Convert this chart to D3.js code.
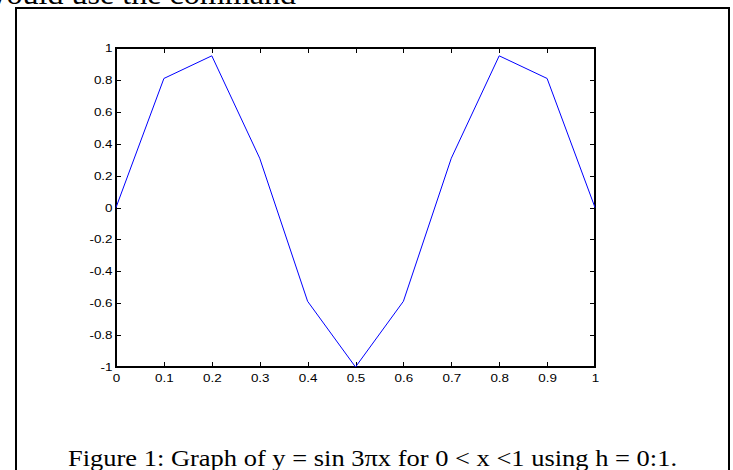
<!DOCTYPE html>
<html>
<head>
<meta charset="utf-8">
<script src="https://cdn.jsdelivr.net/npm/d3@7"></script>
<style>
  html, body { margin: 0; padding: 0; background: #fff; overflow: hidden; }
  svg { display: block; }
</style>
</head>
<body>
<svg id="fig" width="733" height="470"></svg>
<script>
// Sample points of y = sin(3*pi*x) taken with step h = 0.1
const xValues = [0, 0.1, 0.2, 0.3, 0.4, 0.5, 0.6, 0.7, 0.8, 0.9, 1];
const yValues = [0, 0.809, 0.951, 0.309, -0.588, -1, -0.588, 0.309, 0.951, 0.809, 0];

// Axis ticks and their labels
const xTicks = [0, 0.1, 0.2, 0.3, 0.4, 0.5, 0.6, 0.7, 0.8, 0.9, 1];
const xTickLabels = ["0", "0.1", "0.2", "0.3", "0.4", "0.5", "0.6", "0.7", "0.8", "0.9", "1"];
const yTicks = [-1, -0.8, -0.6, -0.4, -0.2, 0, 0.2, 0.4, 0.6, 0.8, 1];
const yTickLabels = ["-1", "-0.8", "-0.6", "-0.4", "-0.2", "0", "0.2", "0.4", "0.6", "0.8", "1"];

const bodyText = "would use the command";
const caption = "Figure 1: Graph of y = sin 3\u03C0x for 0 < x <1 using h = 0:1.";

const serif = "'Liberation Serif', 'Times New Roman', serif";
const sans = "'Liberation Sans', Arial, Helvetica, sans-serif";
// The page is set slightly wide: glyphs are stretched horizontally
const stretch = 1.22;

const svg = d3.select("#fig");

// Running document text above the figure (its upper part runs off the page)
svg.append("text")
  .attr("transform", `translate(296,4) scale(1.07,1)`)
  .attr("text-anchor", "end")
  .attr("font-family", serif)
  .attr("font-size", 30)
  .attr("fill", "#000")
  .text(bodyText);

// Figure frame
svg.append("rect")
  .attr("x", 16).attr("y", 8)
  .attr("width", 713).attr("height", 480)
  .attr("fill", "none")
  .attr("stroke", "#000")
  .attr("stroke-width", 2);

// Plot area
const plot = { left: 116, top: 48, right: 595, bottom: 367 };
const x = d3.scaleLinear().domain([0, 1]).range([plot.left, plot.right]);
const y = d3.scaleLinear().domain([-1, 1]).range([plot.bottom, plot.top]);

const tickLen = 5;

// Bottom axis: inward ticks with labels
const gx = svg.append("g")
  .attr("transform", `translate(0,${plot.bottom})`)
  .call(d3.axisBottom(x)
    .tickValues(xTicks)
    .tickSizeInner(-tickLen).tickSizeOuter(0)
    .tickPadding(7)
    .tickFormat((d, i) => xTickLabels[i]));

// Left axis: inward ticks with labels
const gy = svg.append("g")
  .attr("transform", `translate(${plot.left},0)`)
  .call(d3.axisLeft(y)
    .tickValues(yTicks)
    .tickSizeInner(-tickLen).tickSizeOuter(0)
    .tickPadding(3.5)
    .tickFormat((d, i) => yTickLabels[i]));

// Top and right axes: ticks only
const gxt = svg.append("g")
  .attr("transform", `translate(0,${plot.top})`)
  .call(d3.axisTop(x).tickValues(xTicks).tickSizeInner(-tickLen).tickSizeOuter(0).tickFormat(""));
const gyr = svg.append("g")
  .attr("transform", `translate(${plot.right},0)`)
  .call(d3.axisRight(y).tickValues(yTicks).tickSizeInner(-tickLen).tickSizeOuter(0).tickFormat(""));

[gx, gy, gxt, gyr].forEach(g => {
  g.select(".domain").remove();
  g.selectAll(".tick line")
    .attr("stroke", "#000")
    .attr("stroke-width", 1)
    .attr("shape-rendering", "crispEdges");
  g.selectAll(".tick text")
    .attr("font-family", sans)
    .attr("font-size", 11)
    .attr("fill", "#000");
});

// Widen the tick labels about their anchor points
gx.selectAll(".tick text").attr("transform", `scale(${stretch},1)`);
gy.selectAll(".tick text")
  .attr("x", -3.5 / stretch)
  .attr("transform", `scale(${stretch},1)`);

// Axes box
svg.append("rect")
  .attr("x", plot.left).attr("y", plot.top)
  .attr("width", plot.right - plot.left)
  .attr("height", plot.bottom - plot.top)
  .attr("fill", "none")
  .attr("stroke", "#000")
  .attr("stroke-width", 1.3)
  .attr("shape-rendering", "crispEdges");

// The sampled curve
const line = d3.line()
  .x((d, i) => x(xValues[i]))
  .y(d => y(d));
svg.append("path")
  .datum(yValues)
  .attr("d", line)
  .attr("fill", "none")
  .attr("stroke", "#0000ff")
  .attr("stroke-width", 1);

// Caption
svg.append("text")
  .attr("x", 68).attr("y", 466)
  .attr("font-family", serif)
  .attr("font-size", 23)
  .attr("textLength", 609)
  .attr("lengthAdjust", "spacingAndGlyphs")
  .attr("fill", "#000")
  .text(caption);
</script>
</body>
</html>
